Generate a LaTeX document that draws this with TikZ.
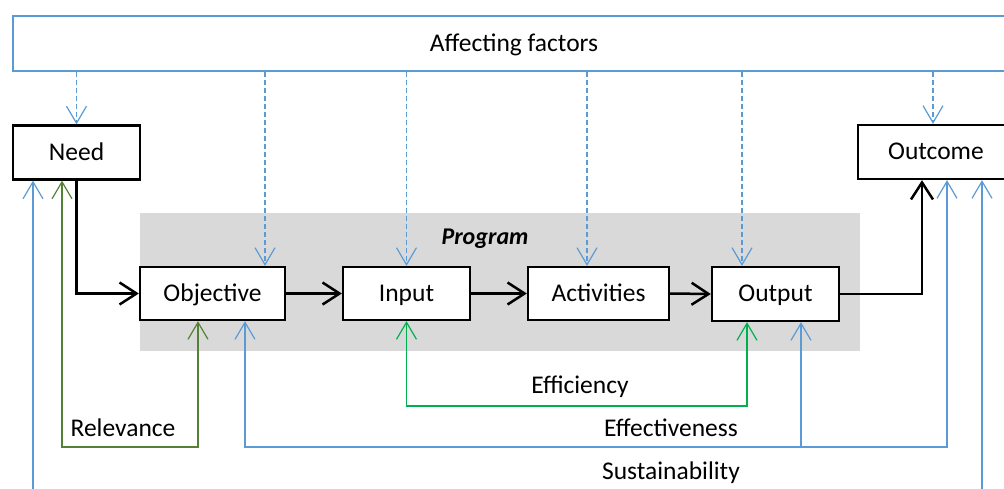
\documentclass[tikz,border=0pt]{standalone}
\usepackage{fontspec}
\setmainfont{Carlito}
\usetikzlibrary{arrows.meta}
\definecolor{fblue}{HTML}{5B9BD5}
\definecolor{dgreen}{HTML}{548235}
\definecolor{bgreen}{HTML}{00B050}
\definecolor{pgray}{HTML}{D9D9D9}
\begin{document}
\begin{tikzpicture}[x=1pt,y=-1pt,
  txt/.style={font=\fontsize{25.5}{30}\selectfont, inner sep=0pt},
  box/.style={draw=black, line width=2.3pt, fill=white, txt, minimum height=54pt, text depth=0pt, text height=15pt},
  flow/.style={draw=black, line width=2.5pt, -{Straight Barb[length=17pt,width=22pt]}},
  fac/.style={draw=fblue, line width=1.2pt, dash pattern=on 5pt off 3pt, -{Straight Barb[length=17pt,width=20pt]}},
  thin/.style={line width=1.2pt, >={Straight Barb[length=17pt,width=20pt]}},
  rel/.style={thin, draw=dgreen},
  effi/.style={thin, draw=bgreen},
  blu/.style={thin, draw=fblue}
]
\useasboundingbox (0,0) rectangle (1004,488);
\clip (0,0) rectangle (1004,488);

% affecting factors
\node[draw=fblue, line width=2.6pt, minimum width=1010pt, minimum height=55pt, inner sep=0pt] (aff) at (518,43.5) {};
\node[txt] (afftxt) at (514,45) {Affecting factors};

% program area
\node[fill=pgray, minimum width=720pt, minimum height=138pt, inner sep=0pt] (prog) at (500,282) {};
\node[txt, font=\fontsize{24}{28}\selectfont\bfseries\itshape] (progtxt) at (485,239) {Program};

% boxes
\node[box, minimum width=127pt] (need) at (76.5,152.5) {Need};
\node[box, minimum width=145pt, minimum height=53pt] (obj) at (212.5,293.5) {Objective};
\node[box, minimum width=127pt, minimum height=53pt] (inp) at (406.5,293.5) {Input};
\node[box, minimum width=141pt, minimum height=53pt] (act) at (598.5,293.5) {Activities};
\node[box, minimum width=127pt] (outp) at (775.5,294) {Output};
\node[box, minimum width=156pt] (outc) at (936,152) {Outcome};

% main flow
\draw[flow] (need.south) |- (obj.west);
\draw[flow] (obj.east) -- (inp.west);
\draw[flow] (inp.east) -- (act.west);
\draw[flow] (act.east) -- (outp.west);
\draw[flow] (outp.east) -| ([xshift=-14pt]outc.south);

% affecting factors arrows
\draw[fac] (aff.south -| need.north) -- (need.north);
\draw[fac] ([xshift=52.5pt]obj.north |- aff.south) -- ([xshift=52.5pt]obj.north);
\draw[fac] (aff.south -| inp.north) -- (inp.north);
\draw[fac] ([xshift=-11.5pt]act.north |- aff.south) -- ([xshift=-11.5pt]act.north);
\draw[fac] ([xshift=-33.5pt]outp.north |- aff.south) -- ([xshift=-33.5pt]outp.north);
\draw[fac] ([xshift=-3pt]outc.north |- aff.south) -- ([xshift=-3pt]outc.north);

% relevance
\coordinate (rl) at (62,447);
\coordinate (rr) at (198,447);
\draw[rel,<->] ([xshift=-14.5pt]need.south) -- (rl) -- (rr) -- ([xshift=-14.5pt]obj.south);
\node[txt] (reltxt) at (123,428) {Relevance};

% efficiency
\coordinate (fl) at (406.5,406);
\coordinate (fr) at (747,406);
\draw[effi,<->] (inp.south) -- (fl) -- (fr) -- ([xshift=-28.5pt]outp.south);
\node[txt] (efftxt) at (580,387) {Efficiency};

% effectiveness
\coordinate (el) at (245,447);
\coordinate (er) at (947,447);
\coordinate (eb) at (801,447);
\draw[blu,<->] ([xshift=32.5pt]obj.south) -- (el) -- (er) -- ([xshift=11pt]outc.south);
\draw[blu,->] (eb) -- ([xshift=25.5pt]outp.south);
\node[txt] (efvtxt) at (671,428) {Effectiveness};

% sustainability
\coordinate (sl) at (33,500);
\coordinate (sr) at (982,500);
\draw[blu,->] (sl) -- ([xshift=-43.5pt]need.south);
\draw[blu,->] (sr) -- ([xshift=46pt]outc.south);
\node[txt] (sustxt) at (671,473) {Sustainability};
\end{tikzpicture}
\end{document}
